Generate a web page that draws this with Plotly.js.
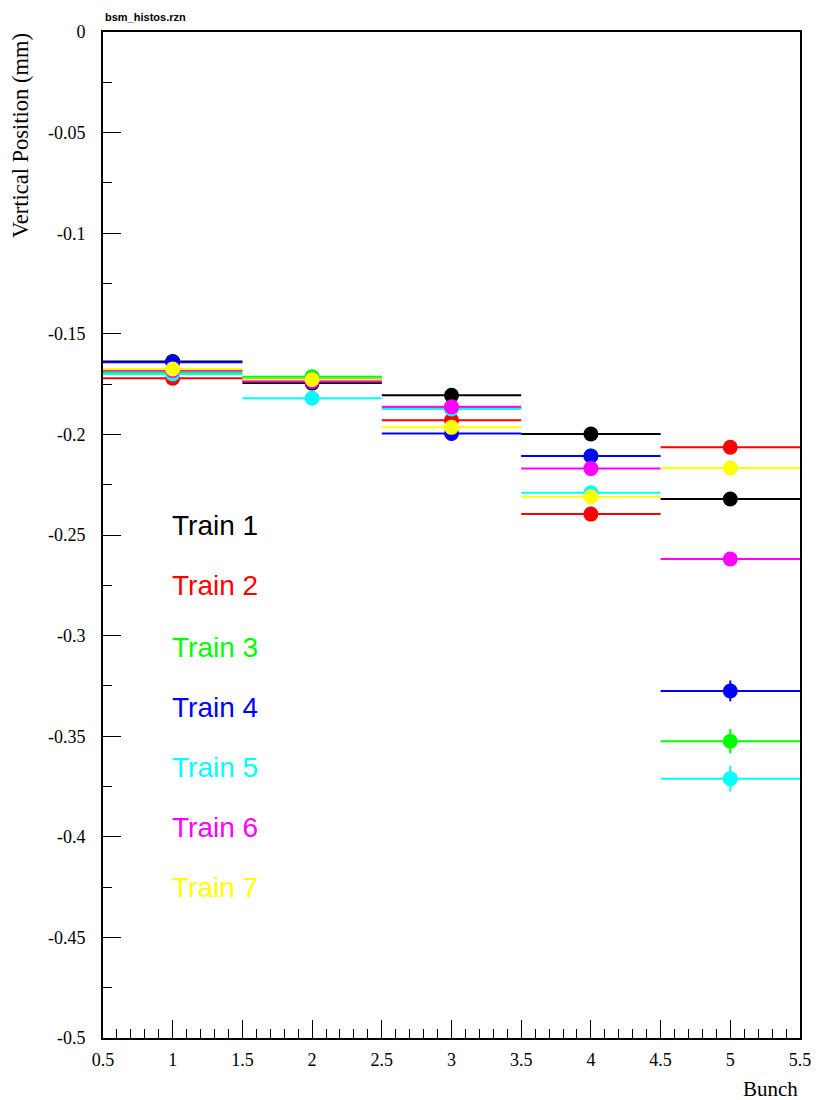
<!DOCTYPE html>
<html>
<head>
<meta charset="utf-8">
<script src="https://cdn.plot.ly/plotly-3.0.1.min.js"></script>
<style>html,body{margin:0;padding:0;background:#fff;}#plot{width:816px;height:1100px;}</style>
</head>
<body>
<div id="plot"></div>
<script>
// Data
const bunches = [1, 2, 3, 4, 5];
const trainNames = ["Train 1", "Train 2", "Train 3", "Train 4", "Train 5", "Train 6", "Train 7"];
const trainColors = ["#000000", "#ff0000", "#00ff00", "#0000ff", "#00ffff", "#ff00ff", "#ffff00"];

const train1 = [-0.1638, -0.1745, -0.1806, -0.1998, -0.2321];
const train2 = [-0.1721, -0.1733, -0.1930, -0.2396, -0.2064];
const train3 = [-0.1691, -0.1713, -0.1866, -0.2107, -0.3525];
const train4 = [-0.1642, -0.1727, -0.1995, -0.2107, -0.3275];
const train5 = [-0.1700, -0.1820, -0.1874, -0.2290, -0.3711];
const train6 = [-0.1683, -0.1737, -0.1863, -0.2170, -0.2619];
const train7 = [-0.1675, -0.1727, -0.1965, -0.2310, -0.2167];

const err1 = [0.002, 0.002, 0.002, 0.002, 0.003];
const err2 = [0.002, 0.002, 0.002, 0.002, 0.003];
const err3 = [0.002, 0.002, 0.002, 0.002, 0.006];
const err4 = [0.002, 0.002, 0.002, 0.002, 0.0052];
const err5 = [0.002, 0.002, 0.002, 0.002, 0.0064];
const err6 = [0.002, 0.002, 0.002, 0.002, 0.003];
const err7 = [0.002, 0.002, 0.002, 0.002, 0.003];

const binHalfWidth = 0.5;

const xTickVals = [0.5, 1, 1.5, 2, 2.5, 3, 3.5, 4, 4.5, 5, 5.5];
const xTickText = ["0.5", "1", "1.5", "2", "2.5", "3", "3.5", "4", "4.5", "5", "5.5"];
const yTickVals = [0, -0.05, -0.1, -0.15, -0.2, -0.25, -0.3, -0.35, -0.4, -0.45, -0.5];
const yTickText = ["0", "-0.05", "-0.1", "-0.15", "-0.2", "-0.25", "-0.3", "-0.35", "-0.4", "-0.45", "-0.5"];

// legend label positions (data coords)
const labelY = [-0.2455, -0.2753, -0.3057, -0.3355, -0.3658, -0.3956, -0.4254];
const labelX = 0.98;

const series = [train1, train2, train3, train4, train5, train6, train7];
const errs = [err1, err2, err3, err4, err5, err6, err7];

const traces = series.map((vals, i) => ({
  type: 'scatter',
  mode: 'markers',
  x: bunches,
  y: vals,
  name: trainNames[i],
  marker: {color: trainColors[i], size: 15, line: {width: 0}},
  error_x: {type: 'constant', value: binHalfWidth, visible: true, thickness: 2, width: 0, color: trainColors[i]},
  error_y: {type: 'data', array: errs[i], visible: true, thickness: 2, width: 0, color: trainColors[i]},
  hoverinfo: 'x+y'
}));

const serif = 'Liberation Serif, Times New Roman, serif';
const sans = 'Liberation Sans, Arial, Helvetica, sans-serif';

const annotations = trainNames.map((t, i) => ({
  xref: 'x', yref: 'y', x: labelX, y: labelY[i],
  xanchor: 'left', yanchor: 'middle',
  text: t, showarrow: false,
  font: {family: sans, size: 28, color: trainColors[i]}
}));

annotations.push({
  xref: 'paper', yref: 'paper', x: 0, y: 1.0149, xanchor: 'left', yanchor: 'middle',
  text: '<b>bsm_histos.rzn</b>', showarrow: false,
  font: {family: sans, size: 11, color: '#000'}
});
annotations.push({
  xref: 'paper', yref: 'paper', x: -0.119, y: 0.8966, xanchor: 'center', yanchor: 'middle',
  textangle: -90, text: 'Vertical Position (mm)', showarrow: false,
  font: {family: serif, size: 22.5, color: '#000'}
});
annotations.push({
  xref: 'paper', yref: 'paper', x: 1, y: -0.0507, xanchor: 'right', yanchor: 'middle',
  text: 'Bunch', showarrow: false,
  font: {family: serif, size: 21, color: '#000'}
});

const layout = {
  width: 816, height: 1100,
  margin: {l: 103, r: 16, t: 32, b: 62},
  paper_bgcolor: '#fff', plot_bgcolor: '#fff',
  showlegend: false,
  xaxis: {
    range: [0.5, 5.5], tickmode: 'array', tickvals: xTickVals, ticktext: xTickText,
    ticks: 'inside', ticklen: 18, tickwidth: 1, tickcolor: '#000',
    minor: {tickmode: 'linear', tick0: 0.5, dtick: 0.1, ticks: 'inside', ticklen: 9, tickwidth: 1, tickcolor: '#000'},
    showline: true, linewidth: 2, linecolor: '#000', mirror: true,
    showgrid: false, zeroline: false, ticklabelstandoff: 4,
    tickfont: {family: serif, size: 18, color: '#000'}
  },
  yaxis: {
    range: [-0.5, 0], tickmode: 'array', tickvals: yTickVals, ticktext: yTickText,
    ticks: 'inside', ticklen: 18, tickwidth: 1, tickcolor: '#000',
    minor: {tickmode: 'linear', tick0: 0, dtick: 0.025, ticks: 'inside', ticklen: 9, tickwidth: 1, tickcolor: '#000'},
    showline: true, linewidth: 2, linecolor: '#000', mirror: true,
    showgrid: false, zeroline: false, ticklabelstandoff: 12,
    tickfont: {family: serif, size: 18, color: '#000'}
  },
  annotations: annotations
};

Plotly.newPlot('plot', traces, layout, {displayModeBar: false, staticPlot: true});
</script>
</body>
</html>
